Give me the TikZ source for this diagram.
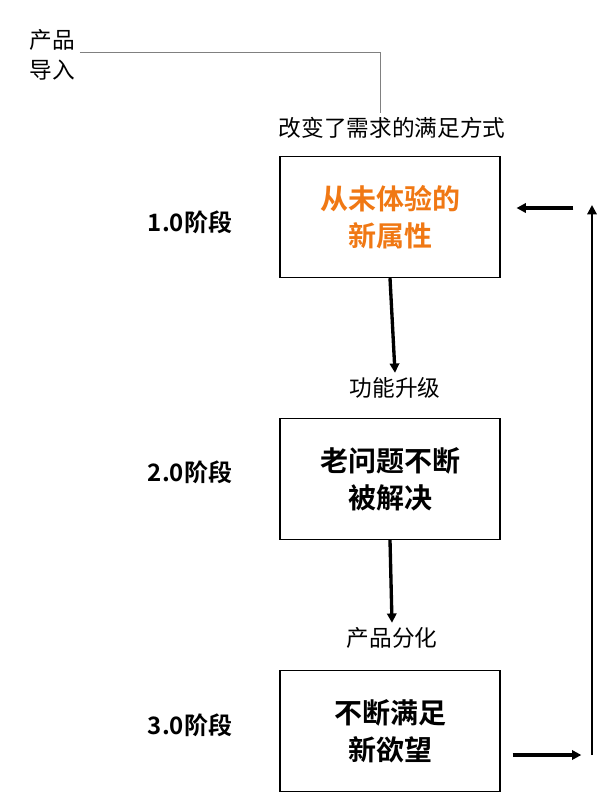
\documentclass[tikz,border=0pt]{standalone}
\usepackage{fontspec}
\setmainfont{Noto Sans CJK SC}[BoldFont={Noto Sans CJK SC Bold}]
\usetikzlibrary{positioning,arrows.meta}

\begin{document}
\begin{tikzpicture}[x=0.75pt,y=-0.75pt]
      \tikzset{StageBox/.style={draw, thick, minimum width=165pt, minimum height=91pt,
          align=center, font=\fontsize{21}{28}\selectfont\bfseries}}
      \tikzset{StageLabel/.style={font=\fontsize{18}{22}\selectfont\bfseries}}
      \tikzset{StepLabel/.style={font=\fontsize{17}{22}\selectfont}}
      \tikzset{FlowArrow/.style={-{Triangle[length=7pt,width=7pt]}, line width=2.5pt}}
      \useasboundingbox (0,0) rectangle (600,792);

      \node[StageBox, text={rgb,255:red,240;green,120;blue,20}] (s1) at (390,217) {从未体验的\\新属性};
      \node[StageBox] (s2) at (390,479) {老问题不断\\被解决};
      \node[StageBox] (s3) at (390,731) {不断满足\\新欲望};

      \node[StageLabel] (l1) at (190,222) {1.0阶段};
      \node[StageLabel] (l2) at (190,472) {2.0阶段};
      \node[StageLabel] (l3) at (190,725) {3.0阶段};

      \node[StepLabel] (t0) at (392,128) {改变了需求的满足方式};
      \node[StepLabel] (t1) at (395,388) {功能升级};
      \node[StepLabel] (t2) at (392,638) {产品分化};
      \node[StepLabel, align=left, anchor=north west] (intro) at (25,25) {产品\\导入};

      % intro line
      \draw[gray, thin] (intro.north east |- 0,52) -| (t0.north -| 380,0);

      \draw[FlowArrow] (s1.south) -- (t1.north);
      \draw[FlowArrow] (s2.south) -- (t2.north);

      % feedback loop
      \coordinate (b) at (592,755);
      \coordinate (t) at (592,205);
      \draw[FlowArrow] (s3.east |- 0,755) ++(12,0) -- ([xshift=-8pt]b);
      \draw[FlowArrow, line width=1.5pt] (b) -- (t);
      \draw[FlowArrow] ([xshift=-14pt]t |- 0,208) -- ([xshift=12pt]s1.east |- 0,208);
    \end{tikzpicture}
\end{document}
